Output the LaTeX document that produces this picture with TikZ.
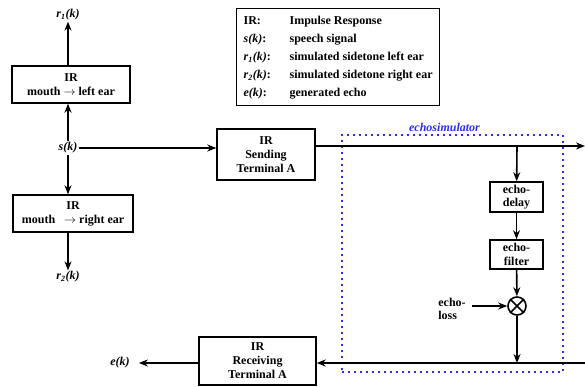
\documentclass[tikz,border=0pt]{standalone}
\usepackage{fontspec}
\setmainfont{Liberation Serif}
\usepackage{tikz}
\usetikzlibrary{
  arrows.meta,
  positioning,
  calc
}
\definecolor{simblue}{RGB}{45,45,240}
\tikzset{
  irbox/.style={draw, line width=1.4pt, align=center, font=\fontsize{12}{14}\selectfont\bfseries,
    inner sep=0pt},
  echobox/.style={draw, line width=1.6pt, align=center, font=\fontsize{12}{13.5}\selectfont\bfseries,
    minimum width=53pt, inner sep=0pt},
  simbox/.style={draw=simblue, line width=2pt, dash pattern=on 2pt off 4pt},
  legbox/.style={draw, line width=1.3pt, align=left, font=\fontsize{12}{12.5}\selectfont\bfseries,
    anchor=north west, minimum width=202pt, minimum height=92pt, inner xsep=7pt},
  sig/.style={font=\fontsize{12}{12.5}\selectfont\bfseries\itshape, inner sep=1pt},
  arr/.style={-{Stealth[length=9pt, width=7pt]}, line width=1.6pt},
}
\newcommand{\sgn}[2]{\textbf{\textit{#1}}\textsubscript{\textbf{\textit{#2}}}\textbf{\textit{(k)}}}

\begin{document}
\begin{tikzpicture}[x=1pt, y=-1pt]
  \useasboundingbox (0,0) rectangle (585,387);

  % Legend
  \node[legbox] (legend) at (236,8) {%
    \renewcommand{\arraystretch}{1.44}%
    \begin{tabular}{@{}p{34pt}l@{}}
      IR: & Impulse Response\\
      \textit{s(k)}: & speech signal\\
      \sgn{r}{1}: & simulated sidetone left ear\\
      \sgn{r}{2}: & simulated sidetone right ear\\
      \textit{e(k)}: & generated echo
    \end{tabular}};

  % Sidetone paths
  \node[sig] (s) at (68,148) {s(k)};
  \node[irbox, minimum width=118pt, minimum height=37pt] (leftear) at (71,84.5)
    {IR\\mouth $\rightarrow$ left ear};
  \node[irbox, minimum width=120pt, minimum height=37pt] (rightear) at (73,213.5)
    {IR\\mouth \ \ $\rightarrow$ right ear};
  \node[sig] (rone) at (68,15) {\sgn{r}{1}};
  \node[sig] (rtwo) at (68,277) {\sgn{r}{2}};

  \draw[arr] (s) -- (s |- leftear.south);
  \draw[arr] (leftear.north -| s) -- (rone);
  \draw[arr] (s) -- (s |- rightear.north);
  \draw[arr] (rightear.south -| s) -- (rtwo);

  % Terminal A
  \node[irbox, minimum width=98pt, minimum height=51pt] (send) at (266,154.5)
    {IR\\Sending\\Terminal A};
  \node[irbox, minimum width=117pt, minimum height=48pt] (recv) at (257.5,361)
    {IR\\Receiving\\Terminal A};
  \node[sig] (ek) at (120,363) {e(k)};

  \draw[arr] (s) -- (s -| send.west);

  % Echo simulator
  \node[simbox, minimum width=221pt, minimum height=237pt] (sim) at (452.5,253.5) {};
  \node[sig, text=simblue, above=1pt of sim.north, xshift=-8pt] (simlabel) {echosimulator};

  \coordinate (out) at (585,146);
  \coordinate (tap) at (517,146);
  \coordinate (in) at (585,363);
  \coordinate (join) at (517,363);

  \node[echobox, minimum height=30pt] (delay) at (516.5,197) {echo-\\delay};
  \node[echobox, minimum height=29pt] (filter) at (516.5,254.5) {echo-\\filter};
  \node[draw, circle, line width=1.6pt, minimum size=18pt, inner sep=0pt] (mult) at (517,306) {};
  \draw[line width=1.6pt] (mult.north east) -- (mult.south west)
    (mult.north west) -- (mult.south east);
  \node[font=\fontsize{12}{13.5}\selectfont\bfseries, align=left] (loss) at (452,309) {echo-\\loss};

  \draw[arr] (send.east |- out) -- (out);
  \draw[arr] (tap) -- (delay);
  \draw[arr] (delay) -- (filter);
  \draw[arr] (filter) -- (mult);
  \draw[arr, shorten <=3pt] (loss.east |- mult) -- (mult);
  \draw[arr] (mult) -- (join);
  \draw[arr] (in) -- (recv.east |- in);
  \draw[arr, shorten >=8pt] (recv.west |- ek) -- (ek);
\end{tikzpicture}
\end{document}
